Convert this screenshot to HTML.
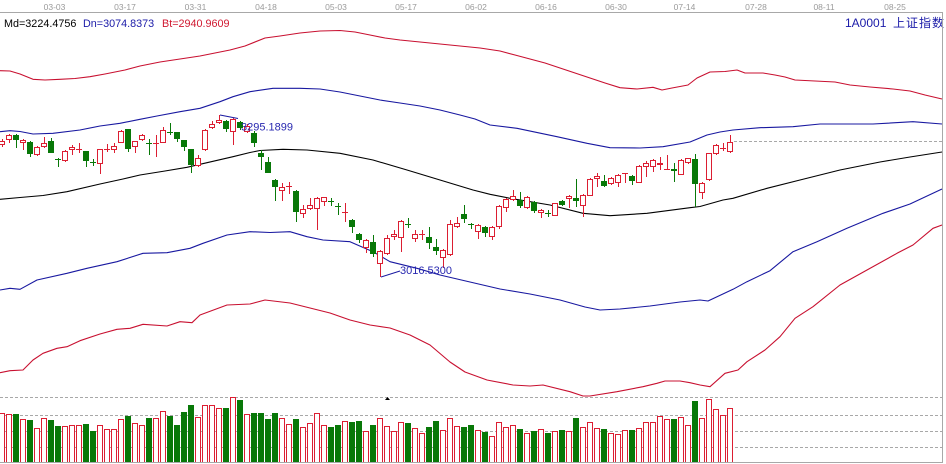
<!DOCTYPE html>
<html><head><meta charset="utf-8"><style>
html,body{margin:0;padding:0;background:#fff;}
svg{display:block;}
text{font-family:"Liberation Sans","Noto Sans CJK SC",sans-serif;}
</style></head><body>
<svg width="946" height="464" viewBox="0 0 946 464" xmlns="http://www.w3.org/2000/svg">
<rect width="946" height="464" fill="#fff"/>
<!-- top axis -->
<line x1="0" y1="12.5" x2="943" y2="12.5" stroke="#a8a8a8" stroke-width="1"/>
<g font-size="8.5" fill="#9a9a9a" text-anchor="middle">
<text x="54.5" y="10">03-03</text><text x="125" y="10">03-17</text><text x="195.5" y="10">03-31</text><text x="266" y="10">04-18</text><text x="336" y="10">05-03</text><text x="406" y="10">05-17</text><text x="476" y="10">06-02</text><text x="546" y="10">06-16</text><text x="616" y="10">06-30</text><text x="684.5" y="10">07-14</text><text x="756" y="10">07-28</text><text x="824" y="10">08-11</text><text x="895" y="10">08-25</text>
</g>
<g font-size="10.8">
<text x="4" y="27" fill="#000">Md=3224.4756</text>
<text x="83" y="27" fill="#1a1aa8">Dn=3074.8373</text>
<text x="162" y="27" fill="#d01830">Bt=2940.9609</text>
</g>
<text x="845" y="27" font-size="12" fill="#1a1aa8">1A0001</text>
<text x="893" y="27" font-size="12" fill="#1a1aa8" letter-spacing="1">上证指数</text>
<!-- borders -->
<line x1="942.5" y1="12" x2="942.5" y2="463" stroke="#a8a8a8"/>
<!-- volume dashed grid -->
<g stroke="#a8a8a8" stroke-dasharray="3,2" stroke-width="1">
<line x1="0" y1="397.5" x2="942" y2="397.5"/>
<line x1="0" y1="415.5" x2="942" y2="415.5"/>
<line x1="0" y1="431.5" x2="942" y2="431.5"/>
<line x1="0" y1="447.5" x2="942" y2="447.5"/>
<line x1="734" y1="141.5" x2="942" y2="141.5"/>
</g>
<!-- band lines -->
<g fill="none" stroke-width="1.1" stroke-linejoin="round">
<polyline stroke="#c81030" points="0,70.7 10,71 20,74 33,79.3 45,80 60,79.3 75,78.5 90,76.7 105,74 125,70 140,66 160,62 180,59 200,56 215,53 230,50 245,46 265,38 280,36 300,33 320,31 340,30.5 355,32 370,35 385,38 400,40 420,42 440,44 460,46 480,48 500,51 515,55 530,59 545,63 560,68 575,73 590,78 605,83 620,87.7 637,89 653,87.3 662,90 672,88 688,85 697,78 710,72 725,71.5 737,70 745,73 763,73 775,75 785,77 795,80 815,81 835,82 850,85 870,87 893,89 910,91 925,95 942,99"/>
<polyline stroke="#1818a0" points="0,131.7 10,130.7 20,131.5 33,134 53,133.3 80,130 100,126 120,123.3 140,119.3 157,116 180,111.7 200,108.3 220,101.7 233,96.7 250,91.7 273,88.3 300,88.3 320,89 340,92 360,96 380,100 400,103 420,106 440,110 460,115 475,119 490,125 517,128.3 557,136.7 587,143.3 610,147.7 640,148 663,146.7 690,142 707,135 720,132 733,130 760,127.7 793,126.7 820,124 873,124 913,121.7 942,124"/>
<polyline stroke="#000" points="0,199.3 20,197.5 43,195.5 67,191.7 100,184 123,179 140,175 165,171 187,167.3 207,162.7 233,156.7 250,152.5 260,150.5 283,149.3 307,150 340,153.3 373,160 407,170 440,180 473,190 490,194.3 510,198.3 550,205 583,213.3 610,215.7 647,213.3 690,207.7 700,206.5 723,200 733,198.3 767,188.3 800,180 840,170 880,162 910,157 942,152"/>
<polyline stroke="#1818a0" points="0,290 10,288.3 20,289.3 37,280 67,273.3 87,268.3 117,261.7 143,253.3 167,252.7 190,248.3 203,243.3 227,235 250,231.7 270,232.5 290,231.7 307,236.7 323,240 350,241.7 373,251.7 390,261.7 417,268.3 440,275 470,282 500,289 530,294 560,300 585,307 600,310 620,309 650,306 680,302 700,300 708,301 733,289.3 747,281.7 770,270.7 793,251.7 817,241.7 847,228.3 883,213.3 910,204 942,189"/>
<polyline stroke="#c81030" points="0,372.7 10,370.7 23,370 33,360 43,353.3 57,348.3 67,346.7 80,340.7 100,334 117,329.3 130,328.3 143,324.3 167,326 180,321.7 192,322.7 200,315 227,305 250,304 265,300 290,303 310,308 330,313 350,320 370,325 390,328 410,335 430,345 450,362 465,372 487,380 513,385 530,386 543,385 570,391.7 583,396 590,396 617,391.7 643,386.7 657,383.3 665,381 680,381 690,382.7 700,385 710,386.7 725,373.3 738,370 747,361.7 765,350 780,336.7 795,318.3 813,306.7 840,285 867,270 897,253.3 913,245 933,228.3 942,225"/>
</g>
<!-- green wicks -->
<path transform="translate(1,0)" fill="none" stroke="#087808" stroke-width="1" d="M15.5 134V148M29.5 141V157M50.5 138V153M57.5 158V167M85.5 151V167M92.5 159V166M127.5 129V152M148.5 139V155M169.5 123V135M176.5 132V142M183.5 140V151M190.5 149V173M225.5 120V132M239.5 121V130M253.5 131V147M260.5 150V170M267.5 157V173M274.5 179V201M295.5 190V222M330.5 198V206M337.5 203V215M351.5 219V233M358.5 233V243M372.5 235V257M407.5 218V228M428.5 227V249M435.5 239V255M463.5 205V223M470.5 223V229M484.5 226V237M519.5 192V208M533.5 201V213M547.5 210V217M561.5 200V206M575.5 179V207M603.5 175V187M631.5 175V185M673.5 163V182M694.5 154V207"/>
<!-- green bodies -->
<path fill="#087808" d="M13 135h6V140h-6zM27 142h6V154h-6zM48 141h6V153h-6zM55 159h6V160h-6zM83 151h6V161h-6zM90 162h6V163h-6zM125 129h6V149h-6zM146 143h6V144h-6zM167 132h6V133h-6zM174 132h6V139h-6zM181 140h6V147h-6zM188 149h6V165h-6zM223 121h6V129h-6zM237 122h6V128h-6zM251 133h6V143h-6zM258 153h6V157h-6zM265 162h6V173h-6zM272 180h6V187h-6zM293 191h6V212h-6zM328 201h6V202h-6zM335 206h6V207h-6zM349 220h6V227h-6zM356 234h6V240h-6zM370 242h6V254h-6zM405 224h6V225h-6zM426 237h6V243h-6zM433 247h6V251h-6zM461 214h6V219h-6zM468 224h6V225h-6zM482 227h6V233h-6zM517 200h6V206h-6zM531 202h6V211h-6zM545 213h6V214h-6zM559 201h6V205h-6zM573 198h6V201h-6zM601 181h6V186h-6zM629 176h6V181h-6zM671 169h6V171h-6zM692 159h6V184h-6z"/>
<!-- red wicks -->
<path transform="translate(1,0)" fill="none" stroke="#dc1e32" stroke-width="1" d="M1.5 139V147M8.5 134V143M22.5 139V150M36.5 146V156M43.5 137V148M64.5 150V162M71.5 145V155M78.5 143V153M99.5 149V174M106.5 144V152M113.5 143V153M120.5 130V143M134.5 141V153M141.5 134V141M155.5 135V157M162.5 127V143M197.5 155V167M204.5 129V151M211.5 121V129M218.5 115V124M232.5 118V145M246.5 124V133M281.5 183V201M288.5 182V194M302.5 205V218M309.5 198V210M316.5 197V230M323.5 197V206M344.5 203V222M365.5 239V253M379.5 250V277M386.5 235V255M393.5 230V240M400.5 220V252M414.5 230V242M421.5 230V240M442.5 249V268M449.5 220V256M456.5 217V228M477.5 224V239M491.5 226V240M498.5 205V229M505.5 198V212M512.5 190V201M526.5 196V209M540.5 209V218M554.5 203V216M568.5 195V208M582.5 194V217M589.5 178V196M596.5 173V187M610.5 177V185M617.5 174V187M624.5 173V183M638.5 165V183M645.5 161V177M652.5 159V172M659.5 157V170M666.5 155V170M680.5 159V175M687.5 158V164M701.5 182V199M708.5 153V181M715.5 144V155M722.5 143V151M729.5 135V153"/>
<!-- red bodies -->
<path fill="#fff" stroke="#dc1e32" stroke-width="1" d="M-0.5 141.5h5V144.5h-5zM6.5 135.5h5V139.5h-5zM20.5 140.5h5V142.5h-5zM34.5 147.5h5V154.5h-5zM41.5 143.5h5V146.5h-5zM62.5 151.5h5V160.5h-5zM69.5 147.5h5V149.5h-5zM76 149.5h6M97.5 149.5h5V163.5h-5zM104 149.5h6M111.5 146.5h5V149.5h-5zM118.5 131.5h5V142.5h-5zM132.5 141.5h5V146.5h-5zM139.5 135.5h5V139.5h-5zM153 143.5h6M160.5 130.5h5V142.5h-5zM195.5 158.5h5V165.5h-5zM202.5 130.5h5V149.5h-5zM209.5 124.5h5V127.5h-5zM216.5 120.5h5V122.5h-5zM230.5 119.5h5V131.5h-5zM244.5 126.5h5V131.5h-5zM279.5 187.5h5V190.5h-5zM286 186.5h6M300.5 209.5h5V213.5h-5zM307.5 205.5h5V208.5h-5zM314.5 198.5h5V208.5h-5zM321.5 197.5h5V201.5h-5zM342 212.5h6M363.5 240.5h5V247.5h-5zM377.5 251.5h5V263.5h-5zM384.5 238.5h5V253.5h-5zM391.5 234.5h5V236.5h-5zM398.5 221.5h5V237.5h-5zM412.5 234.5h5V238.5h-5zM419 234.5h6M440.5 250.5h5V257.5h-5zM447.5 224.5h5V254.5h-5zM454.5 223.5h5V226.5h-5zM475.5 225.5h5V231.5h-5zM489.5 227.5h5V236.5h-5zM496.5 206.5h5V226.5h-5zM503.5 199.5h5V207.5h-5zM510.5 196.5h5V199.5h-5zM524.5 197.5h5V207.5h-5zM538.5 210.5h5V212.5h-5zM552.5 203.5h5V215.5h-5zM566.5 196.5h5V198.5h-5zM580.5 195.5h5V205.5h-5zM587.5 179.5h5V195.5h-5zM594.5 176.5h5V178.5h-5zM608.5 178.5h5V183.5h-5zM615.5 175.5h5V182.5h-5zM622 173.5h6M636.5 166.5h5V182.5h-5zM643.5 163.5h5V166.5h-5zM650.5 160.5h5V166.5h-5zM657.5 163.5h5V164.5h-5zM664 169.5h6M678.5 160.5h5V174.5h-5zM685.5 158.5h5V162.5h-5zM699.5 183.5h5V192.5h-5zM706.5 153.5h5V179.5h-5zM713.5 145.5h5V153.5h-5zM720 148.5h6M727.5 142.5h5V151.5h-5z"/>
<!-- extreme markers -->
<g stroke="#1818a0" stroke-width="1" fill="none">
<polyline points="220,115 238,118.5"/>
<polyline points="381,277 400,271"/>
</g>
<text x="241" y="130.5" font-size="11" fill="#2828b0">3295.1899</text>
<text x="400" y="274" font-size="11" fill="#2828b0">3016.5300</text>
<!-- volume: green -->
<path fill="#087808" d="M13 414h6V462h-6zM27 420h6V462h-6zM48 420h6V462h-6zM55 426h6V462h-6zM83 424h6V462h-6zM90 431h6V462h-6zM125 416h6V462h-6zM146 418h6V462h-6zM167 416h6V462h-6zM174 425h6V462h-6zM181 412h6V462h-6zM188 405h6V462h-6zM223 408h6V462h-6zM237 400h6V462h-6zM251 413h6V462h-6zM258 413h6V462h-6zM265 419h6V462h-6zM272 413h6V462h-6zM293 419h6V462h-6zM328 427h6V462h-6zM335 425h6V462h-6zM349 422h6V462h-6zM356 421h6V462h-6zM370 425h6V462h-6zM405 423h6V462h-6zM426 427h6V462h-6zM433 421h6V462h-6zM461 427h6V462h-6zM468 425h6V462h-6zM482 432h6V462h-6zM517 429h6V462h-6zM531 431h6V462h-6zM545 433h6V462h-6zM559 430h6V462h-6zM573 418h6V462h-6zM601 429h6V462h-6zM629 430h6V462h-6zM671 419h6V462h-6zM692 401h6V462h-6z"/>
<!-- volume: red -->
<path fill="#fff" stroke="#dc1e32" stroke-width="1" d="M-0.5 462V413.5h5V462M6.5 462V414.5h5V462M20.5 462V419.5h5V462M34.5 462V428.5h5V462M41.5 462V418.5h5V462M62.5 462V426.5h5V462M69.5 462V425.5h5V462M76.5 462V425.5h5V462M97.5 462V425.5h5V462M104.5 462V429.5h5V462M111.5 462V429.5h5V462M118.5 462V419.5h5V462M132.5 462V423.5h5V462M139.5 462V425.5h5V462M153.5 462V418.5h5V462M160.5 462V411.5h5V462M195.5 462V417.5h5V462M202.5 462V405.5h5V462M209.5 462V405.5h5V462M216.5 462V408.5h5V462M230.5 462V397.5h5V462M244.5 462V414.5h5V462M279.5 462V418.5h5V462M286.5 462V424.5h5V462M300.5 462V427.5h5V462M307.5 462V423.5h5V462M314.5 462V413.5h5V462M321.5 462V425.5h5V462M342.5 462V421.5h5V462M363.5 462V431.5h5V462M377.5 462V418.5h5V462M384.5 462V426.5h5V462M391.5 462V431.5h5V462M398.5 462V422.5h5V462M412.5 462V428.5h5V462M419.5 462V433.5h5V462M440.5 462V430.5h5V462M447.5 462V418.5h5V462M454.5 462V426.5h5V462M475.5 462V430.5h5V462M489.5 462V436.5h5V462M496.5 462V422.5h5V462M503.5 462V427.5h5V462M510.5 462V425.5h5V462M524.5 462V433.5h5V462M538.5 462V429.5h5V462M552.5 462V431.5h5V462M566.5 462V431.5h5V462M580.5 462V427.5h5V462M587.5 462V422.5h5V462M594.5 462V428.5h5V462M608.5 462V433.5h5V462M615.5 462V434.5h5V462M622.5 462V430.5h5V462M636.5 462V428.5h5V462M643.5 462V422.5h5V462M650.5 462V422.5h5V462M657.5 462V416.5h5V462M664.5 462V419.5h5V462M678.5 462V417.5h5V462M685.5 462V425.5h5V462M699.5 462V418.5h5V462M706.5 462V399.5h5V462M713.5 462V409.5h5V462M720.5 462V415.5h5V462M727.5 462V408.5h5V462"/>
<polygon points="385,400 390,400 387.5,397" fill="#000"/>
<line x1="0" y1="462.5" x2="943" y2="462.5" stroke="#a8a8a8" stroke-width="1"/>
</svg>
</body></html>
